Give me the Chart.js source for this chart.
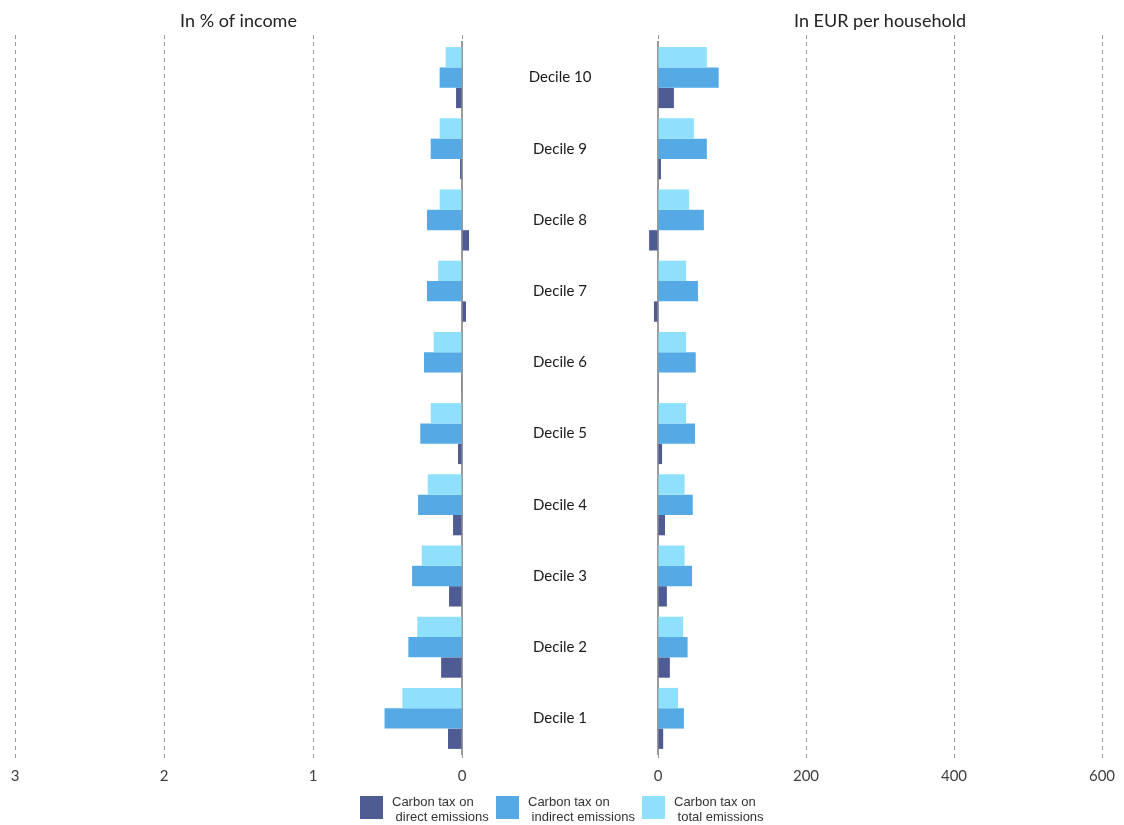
<!DOCTYPE html>
<html><head><meta charset="utf-8">
<script src="https://cdn.jsdelivr.net/npm/chart.js@4.4.1/dist/chart.umd.min.js"></script>
<style>
html,body{margin:0;padding:0;background:#fff;}
#wrap{position:relative;width:1124px;height:825px;overflow:hidden;background:#fff;}
.cv{position:absolute;left:0;top:0;width:1124px;height:825px;}
.lg{position:absolute;top:796px;height:23px;}
.lg .box{position:absolute;left:0;top:0;width:23px;height:23px;}
.lg .txt{position:absolute;left:32px;top:-2px;font:13px/15px "Liberation Sans",Arial,sans-serif;color:#333;white-space:pre;}
</style></head><body>
<div id="wrap">
<div class="cv"><canvas id="left"></canvas></div>
<div class="cv"><canvas id="right"></canvas></div>
<div id="legend"></div>
</div>
<script>
// ---- data (top to bottom as in the picture) ----
const deciles = ['Decile 10','Decile 9','Decile 8','Decile 7','Decile 6','Decile 5','Decile 4','Decile 3','Decile 2','Decile 1'];
// In % of income
const pctTotal    = [0.11, 0.15, 0.15, 0.16, 0.19, 0.21, 0.23, 0.27, 0.30, 0.40];
const pctIndirect = [0.15, 0.21, 0.235, 0.235, 0.255, 0.28, 0.295, 0.335, 0.36, 0.52];
const pctDirect   = [0.04, 0.013, -0.047, -0.027, 0.005, 0.027, 0.06, 0.087, 0.14, 0.094];
// In EUR per household
const eurTotal    = [66, 48.5, 42, 38, 38, 38, 36, 36, 34, 27];
const eurIndirect = [82, 66, 62, 54, 51, 50, 47, 46, 40, 35];
const eurDirect   = [21.5, 4, -12, -5.5, 1, 5.5, 9.5, 12, 16, 7];
// tick settings
const pctTicks = {min:0, max:3, step:1};
const eurTicks = {min:0, max:600, step:200};
const titles = ['In % of income', 'In EUR per household'];
const seriesNames = ['Carbon tax on\n direct emissions', 'Carbon tax on\n indirect emissions', 'Carbon tax on\n total emissions'];
const seriesColors = ['#4f5b93', '#55aae5', '#8ee0fc'];

// ---- layout constants ----
const W = 1124, H = 825;
const chartTop = 42, chartBottom = 754;
const zeroL = 462, leftEdge = 15;
const zeroR = 658, rightEdge = 1102;
const labelCenterX = 560;
const gridCol = '#9a9a9a';

Chart.defaults.font.family = 'Lato';
const mctx = document.createElement('canvas').getContext('2d');
mctx.font = '15px Lato';
const widest = Math.max(...deciles.map(d => mctx.measureText(d).width));

function ds(label, data, color) {
  return {label, data, backgroundColor: color, borderWidth: 0, clip: false,
          barPercentage: 1, categoryPercentage: 0.857, xAxisID: 'x', yAxisID: 'y'};
}

function xScales(t, reverse, title) {
  return {
    x: {type:'linear', axis:'x', position:'bottom', min:t.min, max:t.max, reverse,
        ticks:{stepSize:t.step, font:{size:15}, color:'#404040', padding:7},
        grid:{color:gridCol, lineWidth:1, tickLength:6, tickColor:gridCol, tickBorderDash:[4,4]},
        border:{display:false, dash:[4,4]},
        afterFit(s){ s.height = H - chartBottom; }},
    xTop: {type:'linear', axis:'x', position:'top', min:t.min, max:t.max, reverse,
        ticks:{display:false, stepSize:t.step},
        grid:{drawOnChartArea:false, color:gridCol, tickLength:7, tickColor:gridCol, tickBorderDash:[4,4]},
        border:{display:false, dash:[4,4]},
        title:{display:true, text:title, font:{size:18}, color:'#222', padding:{top:10, bottom:0}},
        afterFit(s){ s.height = chartTop; }}
  };
}

const common = {
  indexAxis:'y', responsive:true, maintainAspectRatio:false, animation:false,
  plugins:{legend:{display:false}, tooltip:{enabled:false}}
};

// Left chart: % of income (reversed axis), decile labels on its right axis
const leftScales = xScales(pctTicks, true, titles[0]);
leftScales.y = {type:'category', position:'right', offset:true,
  grid:{display:false, drawTicks:false},
  border:{display:true, color:gridCol, width:2},
  ticks:{font:{size:15}, color:'#1a1a1a', crossAlign:'center', padding:(labelCenterX - zeroL) - widest/2},
  afterFit(s){ s.width = W - zeroL; s.paddingTop = 0; s.paddingBottom = 0; }};
new Chart(document.getElementById('left'), {
  type:'bar',
  data:{labels:deciles, datasets:[ds(seriesNames[2], pctTotal, seriesColors[2]), ds(seriesNames[1], pctIndirect, seriesColors[1]), ds(seriesNames[0], pctDirect, seriesColors[0])]},
  options:Object.assign({}, common, {layout:{padding:{left:leftEdge, right:0, top:0, bottom:0}}, scales:leftScales})
});

// Right chart: EUR per household
const rightScales = xScales(eurTicks, false, titles[1]);
rightScales.y = {type:'category', position:'left', offset:true,
  grid:{display:false, drawTicks:false},
  border:{display:true, color:gridCol, width:2},
  ticks:{display:false},
  afterFit(s){ s.width = 0; s.paddingTop = 0; s.paddingBottom = 0; }};
new Chart(document.getElementById('right'), {
  type:'bar',
  data:{labels:deciles, datasets:[ds(seriesNames[2], eurTotal, seriesColors[2]), ds(seriesNames[1], eurIndirect, seriesColors[1]), ds(seriesNames[0], eurDirect, seriesColors[0])]},
  options:Object.assign({}, common, {layout:{padding:{left:zeroR, right:W - rightEdge, top:0, bottom:0}}, scales:rightScales})
});

// Legend
const legendX = [360, 496, 642];
const lg = document.getElementById('legend');
seriesNames.forEach((n, i) => {
  const d = document.createElement('div');
  d.className = 'lg';
  d.style.left = legendX[i] + 'px';
  const b = document.createElement('div'); b.className = 'box'; b.style.background = seriesColors[i];
  const t = document.createElement('div'); t.className = 'txt'; t.textContent = n;
  d.appendChild(b); d.appendChild(t); lg.appendChild(d);
});
</script>
</body></html>
